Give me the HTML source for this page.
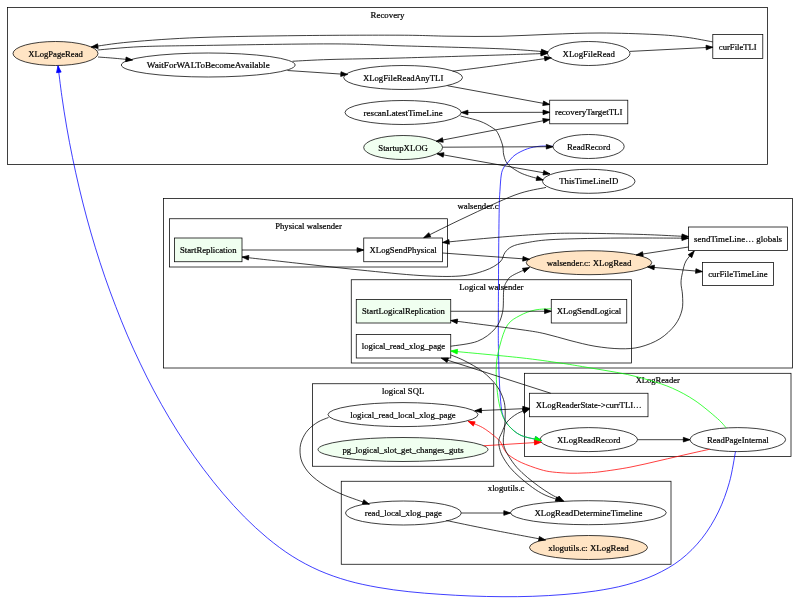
<!DOCTYPE html>
<html><head><meta charset="utf-8"><title>graph</title>
<style>
html,body{margin:0;padding:0;background:#fff;}
svg{display:block;will-change:transform;}
text{font-family:"Liberation Serif",serif;font-size:9.0px;fill:#000;stroke:#000;stroke-width:0.22px;}
</style></head><body>
<svg width="800" height="600" viewBox="0 0 800 600">
<rect x="0" y="0" width="800" height="600" fill="#fff"/>
<rect x="7.5" y="7.5" width="760.00" height="157.00" fill="none" stroke="#000" stroke-width="0.75"/>
<text x="370.55" y="17.60" textLength="33.90" lengthAdjust="spacingAndGlyphs">Recovery</text>
<rect x="163.6" y="198.4" width="628.80" height="169.60" fill="none" stroke="#000" stroke-width="0.75"/>
<text x="457.43" y="208.50" textLength="41.15" lengthAdjust="spacingAndGlyphs">walsender.c</text>
<rect x="169.5" y="218.75" width="278.00" height="48.25" fill="none" stroke="#000" stroke-width="0.75"/>
<text x="275.18" y="228.85" textLength="66.65" lengthAdjust="spacingAndGlyphs">Physical walsender</text>
<rect x="351.25" y="279.75" width="280.25" height="83.25" fill="none" stroke="#000" stroke-width="0.75"/>
<text x="459.30" y="289.85" textLength="64.15" lengthAdjust="spacingAndGlyphs">Logical walsender</text>
<rect x="524.5" y="373.3" width="266.50" height="83.30" fill="none" stroke="#000" stroke-width="0.75"/>
<text x="635.67" y="383.40" textLength="44.15" lengthAdjust="spacingAndGlyphs">XLogReader</text>
<rect x="312.5" y="383.75" width="181.25" height="82.50" fill="none" stroke="#000" stroke-width="0.75"/>
<text x="382.05" y="393.85" textLength="42.15" lengthAdjust="spacingAndGlyphs">logical SQL</text>
<rect x="341.25" y="481.25" width="329.75" height="83.00" fill="none" stroke="#000" stroke-width="0.75"/>
<text x="487.77" y="491.35" textLength="36.70" lengthAdjust="spacingAndGlyphs">xlogutils.c</text>
<ellipse cx="55.5" cy="53.5" rx="42.5" ry="12" fill="#ffe4c4" stroke="#000" stroke-width="0.75"/>
<text x="28.18" y="56.60" textLength="54.65" lengthAdjust="spacingAndGlyphs">XLogPageRead</text>
<ellipse cx="208.25" cy="65" rx="86.9" ry="12" fill="none" stroke="#000" stroke-width="0.75"/>
<text x="146.80" y="68.10" textLength="122.90" lengthAdjust="spacingAndGlyphs">WaitForWALToBecomeAvailable</text>
<ellipse cx="403.1" cy="77.5" rx="59.4" ry="12" fill="none" stroke="#000" stroke-width="0.75"/>
<text x="362.90" y="80.60" textLength="80.40" lengthAdjust="spacingAndGlyphs">XLogFileReadAnyTLI</text>
<ellipse cx="588.75" cy="53.5" rx="41.25" ry="12" fill="none" stroke="#000" stroke-width="0.75"/>
<text x="562.55" y="56.60" textLength="52.40" lengthAdjust="spacingAndGlyphs">XLogFileRead</text>
<rect x="712.8" y="34.6" width="50.00" height="23.80" fill="none" stroke="#000" stroke-width="0.75"/>
<text x="718.85" y="49.60" textLength="37.90" lengthAdjust="spacingAndGlyphs">curFileTLI</text>
<ellipse cx="403.1" cy="112.5" rx="58.1" ry="12" fill="none" stroke="#000" stroke-width="0.75"/>
<text x="363.53" y="115.60" textLength="79.15" lengthAdjust="spacingAndGlyphs">rescanLatestTimeLine</text>
<rect x="549.7" y="100.2" width="78.10" height="23.60" fill="none" stroke="#000" stroke-width="0.75"/>
<text x="554.95" y="115.10" textLength="67.60" lengthAdjust="spacingAndGlyphs">recoveryTargetTLI</text>
<ellipse cx="403.1" cy="147.5" rx="39.4" ry="12" fill="#f0fff0" stroke="#000" stroke-width="0.75"/>
<text x="378.28" y="150.60" textLength="49.65" lengthAdjust="spacingAndGlyphs">StartupXLOG</text>
<ellipse cx="588.6" cy="146.5" rx="35.6" ry="12" fill="none" stroke="#000" stroke-width="0.75"/>
<text x="566.90" y="149.60" textLength="43.40" lengthAdjust="spacingAndGlyphs">ReadRecord</text>
<ellipse cx="588.75" cy="181.3" rx="46.25" ry="12" fill="none" stroke="#000" stroke-width="0.75"/>
<text x="559.17" y="184.40" textLength="59.15" lengthAdjust="spacingAndGlyphs">ThisTimeLineID</text>
<rect x="174.5" y="238" width="67.50" height="23.75" fill="#f0fff0" stroke="#000" stroke-width="0.75"/>
<text x="179.93" y="252.97" textLength="56.65" lengthAdjust="spacingAndGlyphs">StartReplication</text>
<rect x="363.75" y="238" width="78.75" height="23.75" fill="none" stroke="#000" stroke-width="0.75"/>
<text x="369.55" y="252.97" textLength="67.15" lengthAdjust="spacingAndGlyphs">XLogSendPhysical</text>
<rect x="356.25" y="299.5" width="94.50" height="23.50" fill="#f0fff0" stroke="#000" stroke-width="0.75"/>
<text x="362.05" y="314.35" textLength="82.90" lengthAdjust="spacingAndGlyphs">StartLogicalReplication</text>
<rect x="551.25" y="299.5" width="75.50" height="23.50" fill="none" stroke="#000" stroke-width="0.75"/>
<text x="556.67" y="314.35" textLength="64.65" lengthAdjust="spacingAndGlyphs">XLogSendLogical</text>
<rect x="356.25" y="334.5" width="94.50" height="23.50" fill="none" stroke="#000" stroke-width="0.75"/>
<text x="361.80" y="349.35" textLength="83.40" lengthAdjust="spacingAndGlyphs">logical_read_xlog_page</text>
<ellipse cx="589" cy="262.7" rx="62.75" ry="12" fill="#ffe4c4" stroke="#000" stroke-width="0.75"/>
<text x="546.67" y="265.80" textLength="84.65" lengthAdjust="spacingAndGlyphs">walsender.c: XLogRead</text>
<rect x="688.6" y="227" width="99.00" height="23.60" fill="none" stroke="#000" stroke-width="0.75"/>
<text x="694.10" y="241.90" textLength="88.00" lengthAdjust="spacingAndGlyphs">sendTimeLine… globals</text>
<rect x="702.4" y="262.4" width="71.00" height="23.20" fill="none" stroke="#000" stroke-width="0.75"/>
<text x="708.20" y="277.10" textLength="59.40" lengthAdjust="spacingAndGlyphs">curFileTimeLine</text>
<rect x="529.5" y="393.25" width="118.50" height="23.50" fill="none" stroke="#000" stroke-width="0.75"/>
<text x="535.67" y="408.10" textLength="106.15" lengthAdjust="spacingAndGlyphs">XLogReaderState-&gt;currTLI…</text>
<ellipse cx="588.75" cy="439.6" rx="48.75" ry="12" fill="none" stroke="#000" stroke-width="0.75"/>
<text x="557.05" y="442.70" textLength="63.40" lengthAdjust="spacingAndGlyphs">XLogReadRecord</text>
<ellipse cx="737.8" cy="439.6" rx="47.8" ry="12" fill="none" stroke="#000" stroke-width="0.75"/>
<text x="706.90" y="442.70" textLength="61.80" lengthAdjust="spacingAndGlyphs">ReadPageInternal</text>
<ellipse cx="403" cy="414.6" rx="75" ry="12" fill="none" stroke="#000" stroke-width="0.75"/>
<text x="350.30" y="417.70" textLength="105.40" lengthAdjust="spacingAndGlyphs">logical_read_local_xlog_page</text>
<ellipse cx="403" cy="449.5" rx="85" ry="12" fill="#f0fff0" stroke="#000" stroke-width="0.75"/>
<text x="342.43" y="452.60" textLength="121.15" lengthAdjust="spacingAndGlyphs">pg_logical_slot_get_changes_guts</text>
<ellipse cx="403.4" cy="513" rx="57.9" ry="12" fill="none" stroke="#000" stroke-width="0.75"/>
<text x="364.82" y="516.10" textLength="77.15" lengthAdjust="spacingAndGlyphs">read_local_xlog_page</text>
<ellipse cx="588.4" cy="512.7" rx="77.9" ry="12" fill="none" stroke="#000" stroke-width="0.75"/>
<text x="534.45" y="515.80" textLength="107.90" lengthAdjust="spacingAndGlyphs">XLogReadDetermineTimeline</text>
<ellipse cx="588.5" cy="547.5" rx="59" ry="12" fill="#ffe4c4" stroke="#000" stroke-width="0.75"/>
<text x="548.30" y="550.60" textLength="80.40" lengthAdjust="spacingAndGlyphs">xlogutils.c: XLogRead</text>
<path d="M553.00,146.30C550.83,146.28 544.25,145.79 540.00,146.20C535.75,146.61 531.67,147.28 527.50,148.75C523.33,150.22 518.33,152.62 515.00,155.00C511.67,157.38 509.42,160.83 507.50,163.00C505.58,165.17 504.54,166.00 503.50,168.00C502.46,170.00 501.83,171.33 501.25,175.00C500.67,178.67 500.32,185.00 500.00,190.00C499.68,195.00 499.52,195.00 499.30,205.00C499.08,215.00 498.87,229.17 498.70,250.00C498.53,270.83 498.32,312.50 498.30,330.00C498.28,347.50 498.47,347.50 498.60,355.00C498.73,362.50 498.87,368.75 499.10,375.00C499.33,381.25 499.58,386.67 500.00,392.50C500.42,398.33 500.90,405.67 501.60,410.00C502.30,414.33 503.01,415.88 504.20,418.50C505.39,421.12 505.95,422.93 508.75,425.75C511.55,428.57 515.54,432.96 521.00,435.40C526.46,437.84 538.08,439.57 541.50,440.40" fill="none" stroke="#0000ff" stroke-width="0.75"/>
<polygon points="534.47,441.08 541.50,440.40 535.57,436.56" fill="#0000ff" stroke="#0000ff" stroke-width="0.75"/>
<path d="M98.00,57.00C100.83,57.22 109.25,57.80 115.00,58.30C120.75,58.80 129.58,59.72 132.50,60.00" fill="none" stroke="#000" stroke-width="0.75"/>
<polygon points="125.64,61.67 132.50,60.00 126.09,57.04" fill="#000" stroke="#000" stroke-width="0.75"/>
<path d="M712.80,41.90C708.33,41.12 695.63,38.43 686.00,37.20C676.37,35.97 669.33,35.20 655.00,34.50C640.67,33.80 617.50,33.03 600.00,33.00C582.50,32.97 566.67,33.75 550.00,34.30C533.33,34.85 516.67,35.98 500.00,36.30C483.33,36.62 466.67,36.38 450.00,36.20C433.33,36.02 425.00,35.30 400.00,35.20C375.00,35.10 333.33,35.22 300.00,35.60C266.67,35.98 228.33,36.43 200.00,37.50C171.67,38.57 148.12,40.42 130.00,42.00C111.88,43.58 97.71,46.17 91.25,47.00" fill="none" stroke="#000" stroke-width="0.75"/>
<polygon points="97.57,43.84 91.25,47.00 98.16,48.46" fill="#000" stroke="#000" stroke-width="0.75"/>
<path d="M97.50,50.00C104.58,49.45 122.92,47.45 140.00,46.70C157.08,45.95 168.33,45.97 200.00,45.50C231.67,45.03 296.67,43.85 330.00,43.90C363.33,43.95 371.67,44.99 400.00,45.80C428.33,46.61 475.33,47.72 500.00,48.75C524.67,49.78 540.00,51.46 548.00,52.00" fill="none" stroke="#000" stroke-width="0.75"/>
<polygon points="541.19,53.87 548.00,52.00 541.50,49.22" fill="#000" stroke="#000" stroke-width="0.75"/>
<path d="M292.50,61.25C298.75,60.96 312.08,60.04 330.00,59.50C347.92,58.96 371.67,58.75 400.00,58.00C428.33,57.25 475.42,55.77 500.00,55.00C524.58,54.23 539.58,53.67 547.50,53.40" fill="none" stroke="#000" stroke-width="0.75"/>
<polygon points="540.91,55.95 547.50,53.40 540.76,51.30" fill="#000" stroke="#000" stroke-width="0.75"/>
<path d="M287.50,70.50L347.50,74.50" fill="none" stroke="#000" stroke-width="0.75"/>
<polygon points="340.69,76.38 347.50,74.50 341.00,71.73" fill="#000" stroke="#000" stroke-width="0.75"/>
<path d="M452.50,71.25C460.42,70.21 483.54,67.26 500.00,65.00C516.46,62.74 542.71,58.92 551.25,57.70" fill="none" stroke="#000" stroke-width="0.75"/>
<polygon points="544.98,60.95 551.25,57.70 544.32,56.33" fill="#000" stroke="#000" stroke-width="0.75"/>
<path d="M447.50,85.75L549.70,104.50" fill="none" stroke="#000" stroke-width="0.75"/>
<polygon points="542.72,105.59 549.70,104.50 543.56,101.00" fill="#000" stroke="#000" stroke-width="0.75"/>
<path d="M461.25,112.50L549.70,112.30" fill="none" stroke="#000" stroke-width="0.75"/>
<polygon points="543.04,114.65 549.70,112.30 543.02,109.99" fill="#000" stroke="#000" stroke-width="0.75"/>
<polygon points="467.91,110.15 461.25,112.50 467.93,114.81" fill="#000" stroke="#000" stroke-width="0.75"/>
<path d="M436.25,141.25L549.70,119.50" fill="none" stroke="#000" stroke-width="0.75"/>
<polygon points="543.59,123.04 549.70,119.50 542.71,118.47" fill="#000" stroke="#000" stroke-width="0.75"/>
<polygon points="442.36,137.71 436.25,141.25 443.24,142.28" fill="#000" stroke="#000" stroke-width="0.75"/>
<path d="M442.50,147.20L553.00,146.70" fill="none" stroke="#000" stroke-width="0.75"/>
<polygon points="546.34,149.06 553.00,146.70 546.32,144.40" fill="#000" stroke="#000" stroke-width="0.75"/>
<path d="M437.00,153.75L550.00,173.90" fill="none" stroke="#000" stroke-width="0.75"/>
<polygon points="543.02,175.02 550.00,173.90 543.84,170.44" fill="#000" stroke="#000" stroke-width="0.75"/>
<polygon points="443.98,152.63 437.00,153.75 443.16,157.21" fill="#000" stroke="#000" stroke-width="0.75"/>
<path d="M460.50,116.00C463.75,116.88 474.75,119.33 480.00,121.25C485.25,123.17 489.08,125.62 492.00,127.50C494.92,129.38 495.75,129.58 497.50,132.50C499.25,135.42 501.46,141.25 502.50,145.00C503.54,148.75 502.92,151.88 503.75,155.00C504.58,158.12 505.21,161.04 507.50,163.75C509.79,166.46 514.17,169.28 517.50,171.25C520.83,173.22 523.23,174.14 527.50,175.60C531.77,177.06 540.50,179.27 543.10,180.00" fill="none" stroke="#000" stroke-width="0.75"/>
<polygon points="536.05,180.43 543.10,180.00 537.31,175.95" fill="#000" stroke="#000" stroke-width="0.75"/>
<path d="M546.00,187.40C540.83,188.67 528.50,189.98 515.00,195.00C501.50,200.02 480.21,210.38 465.00,217.50C449.79,224.62 430.62,234.33 423.75,237.70" fill="none" stroke="#000" stroke-width="0.75"/>
<polygon points="428.72,232.67 423.75,237.70 430.77,236.86" fill="#000" stroke="#000" stroke-width="0.75"/>
<path d="M551.25,308.75C548.54,308.96 540.21,308.88 535.00,310.00C529.79,311.12 524.58,313.00 520.00,315.50C515.42,318.00 510.83,320.08 507.50,325.00C504.17,329.92 501.87,338.17 500.00,345.00C498.13,351.83 496.73,358.08 496.30,366.00C495.87,373.92 496.49,384.58 497.40,392.50C498.31,400.42 499.86,407.96 501.75,413.50C503.64,419.04 505.54,422.10 508.75,425.75C511.96,429.40 515.54,432.96 521.00,435.40C526.46,437.84 538.08,439.57 541.50,440.40" fill="none" stroke="#00ff00" stroke-width="0.75"/>
<polygon points="534.47,441.08 541.50,440.40 535.57,436.56" fill="#00ff00" stroke="#00ff00" stroke-width="0.75"/>
<path d="M483.75,445.75L541.10,442.20" fill="none" stroke="#ff0000" stroke-width="0.75"/>
<polygon points="534.59,444.94 541.10,442.20 534.30,440.29" fill="#ff0000" stroke="#ff0000" stroke-width="0.75"/>
<path d="M709.50,449.30C706.25,450.02 698.25,451.73 690.00,453.60C681.75,455.47 670.00,458.23 660.00,460.50C650.00,462.77 640.00,465.32 630.00,467.20C620.00,469.08 607.50,470.85 600.00,471.80C592.50,472.75 590.00,472.67 585.00,472.90C580.00,473.13 575.42,473.35 570.00,473.20C564.58,473.05 557.50,472.63 552.50,472.00C547.50,471.37 545.21,470.98 540.00,469.40C534.79,467.82 526.46,464.90 521.25,462.50C516.04,460.10 511.67,457.29 508.75,455.00C505.83,452.71 505.12,450.92 503.75,448.75C502.38,446.58 502.04,444.09 500.50,442.00C498.96,439.91 497.50,438.62 494.50,436.20C491.50,433.78 486.90,429.98 482.50,427.50C478.10,425.02 470.50,422.33 468.10,421.30" fill="none" stroke="#ff0000" stroke-width="0.75"/>
<polygon points="475.15,421.80 468.10,421.30 473.30,426.08" fill="#ff0000" stroke="#ff0000" stroke-width="0.75"/>
<path d="M726.30,428.00C724.83,426.43 722.72,423.17 717.50,418.60C712.28,414.03 702.50,405.66 695.00,400.60C687.50,395.54 680.00,391.62 672.50,388.25C665.00,384.88 657.50,382.69 650.00,380.40C642.50,378.11 635.00,376.17 627.50,374.50C620.00,372.83 612.50,371.72 605.00,370.40C597.50,369.08 590.00,367.83 582.50,366.60C575.00,365.37 570.42,364.48 560.00,363.00C549.58,361.52 538.21,359.70 520.00,357.70C501.79,355.70 462.29,352.12 450.75,351.00" fill="none" stroke="#00ff00" stroke-width="0.75"/>
<polygon points="457.61,349.32 450.75,351.00 457.16,353.96" fill="#00ff00" stroke="#00ff00" stroke-width="0.75"/>
<path d="M735.50,451.50C734.48,456.63 732.27,472.22 729.40,482.30C726.53,492.38 722.87,502.67 718.30,512.00C713.73,521.33 708.27,530.37 702.00,538.30C695.73,546.23 688.53,553.52 680.70,559.60C672.87,565.68 664.10,570.58 655.00,574.80C645.90,579.02 636.03,582.20 626.10,584.90C616.17,587.60 605.75,589.40 595.40,591.00C585.05,592.60 574.43,593.62 564.00,594.50C553.57,595.38 543.13,595.93 532.80,596.30C522.47,596.67 512.28,596.75 502.00,596.70C491.72,596.65 481.42,596.40 471.10,596.00C460.78,595.60 450.47,595.02 440.10,594.30C429.73,593.58 419.25,592.85 408.90,591.70C398.55,590.55 388.18,589.23 378.00,587.40C367.82,585.57 357.62,583.52 347.80,580.70C337.98,577.88 328.37,574.58 319.10,570.50C309.83,566.42 300.82,561.62 292.20,556.20C283.58,550.78 275.37,544.55 267.40,538.00C259.43,531.45 251.77,524.28 244.40,516.90C237.03,509.52 229.98,501.63 223.20,493.70C216.42,485.77 209.95,477.58 203.70,469.30C197.45,461.02 191.45,452.58 185.70,444.00C179.95,435.42 174.48,426.65 169.20,417.80C163.92,408.95 158.85,400.00 154.00,390.90C149.15,381.80 144.55,372.50 140.10,363.20C135.65,353.90 131.37,344.57 127.30,335.10C123.23,325.63 119.42,316.03 115.70,306.40C111.98,296.77 108.38,287.07 105.00,277.30C101.62,267.53 98.43,257.68 95.40,247.80C92.37,237.92 89.50,227.98 86.80,218.00C84.10,208.02 81.58,197.97 79.20,187.90C76.82,177.83 74.58,167.73 72.50,157.60C70.42,147.47 68.47,137.28 66.70,127.10C64.93,116.92 63.35,106.72 61.90,96.50C60.45,86.28 58.65,70.92 58.00,65.80" fill="none" stroke="#0000ff" stroke-width="0.75"/>
<polygon points="61.15,72.12 58.00,65.80 56.53,72.71" fill="#0000ff" stroke="#0000ff" stroke-width="0.75"/>
<path d="M242.00,250.00L363.75,250.00" fill="none" stroke="#000" stroke-width="0.75"/>
<polygon points="357.08,252.33 363.75,250.00 357.08,247.67" fill="#000" stroke="#000" stroke-width="0.75"/>
<path d="M442.50,242.50C450.42,241.75 473.75,239.38 490.00,238.00C506.25,236.62 525.83,235.00 540.00,234.20C554.17,233.40 558.33,233.17 575.00,233.20C591.67,233.23 621.07,233.83 640.00,234.40C658.93,234.97 680.50,236.23 688.60,236.60" fill="none" stroke="#000" stroke-width="0.75"/>
<polygon points="681.83,238.63 688.60,236.60 682.04,233.97" fill="#000" stroke="#000" stroke-width="0.75"/>
<polygon points="448.92,239.55 442.50,242.50 449.36,244.19" fill="#000" stroke="#000" stroke-width="0.75"/>
<path d="M242.00,257.00C251.67,258.08 280.33,261.33 300.00,263.50C319.67,265.67 340.00,268.00 360.00,270.00C380.00,272.00 403.33,274.50 420.00,275.50C436.67,276.50 449.17,276.83 460.00,276.00C470.83,275.17 478.33,272.83 485.00,270.50C491.67,268.17 496.67,265.00 500.00,262.00C503.33,259.00 503.00,255.08 505.00,252.50C507.00,249.92 508.67,248.08 512.00,246.50C515.33,244.92 518.67,244.13 525.00,243.00C531.33,241.87 537.50,240.49 550.00,239.70C562.50,238.91 585.00,238.53 600.00,238.25C615.00,237.97 625.23,238.01 640.00,238.00C654.77,237.99 680.50,238.17 688.60,238.20" fill="none" stroke="#000" stroke-width="0.75"/>
<polygon points="681.92,240.50 688.60,238.20 681.94,235.84" fill="#000" stroke="#000" stroke-width="0.75"/>
<polygon points="248.89,255.43 242.00,257.00 248.37,260.06" fill="#000" stroke="#000" stroke-width="0.75"/>
<path d="M442.50,253.00L529.50,259.30" fill="none" stroke="#000" stroke-width="0.75"/>
<polygon points="522.68,261.14 529.50,259.30 523.02,256.49" fill="#000" stroke="#000" stroke-width="0.75"/>
<path d="M688.60,247.00L636.25,255.00" fill="none" stroke="#000" stroke-width="0.75"/>
<polygon points="642.49,251.69 636.25,255.00 643.20,256.30" fill="#000" stroke="#000" stroke-width="0.75"/>
<path d="M647.60,266.90L702.40,271.60" fill="none" stroke="#000" stroke-width="0.75"/>
<polygon points="695.56,273.35 702.40,271.60 695.95,268.71" fill="#000" stroke="#000" stroke-width="0.75"/>
<polygon points="654.44,265.15 647.60,266.90 654.05,269.79" fill="#000" stroke="#000" stroke-width="0.75"/>
<path d="M450.75,311.25L551.25,311.25" fill="none" stroke="#000" stroke-width="0.75"/>
<polygon points="544.58,313.58 551.25,311.25 544.58,308.92" fill="#000" stroke="#000" stroke-width="0.75"/>
<path d="M450.75,320.50C462.29,322.00 504.29,327.29 520.00,329.50C535.71,331.71 536.67,331.92 545.00,333.75C553.33,335.58 561.67,338.42 570.00,340.50C578.33,342.58 586.67,344.88 595.00,346.25C603.33,347.62 612.50,348.62 620.00,348.75C627.50,348.88 633.33,348.67 640.00,347.00C646.67,345.33 654.17,342.42 660.00,338.75C665.83,335.08 671.33,329.79 675.00,325.00C678.67,320.21 680.75,315.00 682.00,310.00C683.25,305.00 682.67,299.50 682.50,295.00C682.33,290.50 681.00,286.75 681.00,283.00C681.00,279.25 681.67,276.17 682.50,272.50C683.33,268.83 684.05,264.58 686.00,261.00C687.95,257.42 692.83,252.67 694.20,251.00" fill="none" stroke="#000" stroke-width="0.75"/>
<polygon points="691.77,257.64 694.20,251.00 688.17,254.68" fill="#000" stroke="#000" stroke-width="0.75"/>
<polygon points="457.66,319.05 450.75,320.50 457.06,323.67" fill="#000" stroke="#000" stroke-width="0.75"/>
<path d="M450.75,346.25C455.21,345.42 470.12,344.17 477.50,341.25C484.88,338.33 490.83,333.54 495.00,328.75C499.17,323.96 501.04,318.96 502.50,312.50C503.96,306.04 503.00,295.25 503.75,290.00C504.50,284.75 505.54,283.42 507.00,281.00C508.46,278.58 508.75,277.73 512.50,275.50C516.25,273.27 526.67,268.92 529.50,267.60" fill="none" stroke="#000" stroke-width="0.75"/>
<polygon points="524.43,272.52 529.50,267.60 522.47,268.30" fill="#000" stroke="#000" stroke-width="0.75"/>
<path d="M550.75,393.25L441.40,358.20" fill="none" stroke="#000" stroke-width="0.75"/>
<polygon points="448.46,358.02 441.40,358.20 447.04,362.45" fill="#000" stroke="#000" stroke-width="0.75"/>
<path d="M450.75,354.90C453.12,355.92 459.71,358.23 465.00,361.00C470.29,363.77 477.25,367.42 482.50,371.50C487.75,375.58 493.00,380.83 496.50,385.50C500.00,390.17 502.04,395.08 503.50,399.50C504.96,403.92 505.07,407.33 505.25,412.00C505.43,416.67 504.93,422.83 504.60,427.50C504.28,432.17 503.33,436.67 503.30,440.00C503.27,443.33 503.49,444.79 504.40,447.50C505.31,450.21 506.67,452.92 508.75,456.25C510.83,459.58 513.77,463.96 516.90,467.50C520.02,471.04 523.86,474.38 527.50,477.50C531.14,480.62 535.00,483.54 538.75,486.25C542.50,488.96 545.83,491.25 550.00,493.75C554.17,496.25 561.46,500.00 563.75,501.25" fill="none" stroke="#000" stroke-width="0.75"/>
<polygon points="556.78,500.10 563.75,501.25 559.01,496.01" fill="#000" stroke="#000" stroke-width="0.75"/>
<path d="M529.50,409.00C527.50,409.75 521.25,411.33 517.50,413.50C513.75,415.67 509.62,418.79 507.00,422.00C504.38,425.21 503.10,429.75 501.75,432.75C500.40,435.75 499.29,437.54 498.90,440.00C498.51,442.46 498.80,444.79 499.40,447.50C500.00,450.21 500.73,452.92 502.50,456.25C504.27,459.58 507.08,463.96 510.00,467.50C512.92,471.04 516.25,474.17 520.00,477.50C523.75,480.83 528.33,484.58 532.50,487.50C536.67,490.42 540.03,492.72 545.00,495.00C549.97,497.28 559.42,500.17 562.30,501.20" fill="none" stroke="#000" stroke-width="0.75"/>
<polygon points="555.23,501.14 562.30,501.20 556.81,496.76" fill="#000" stroke="#000" stroke-width="0.75"/>
<polygon points="524.07,413.52 529.50,409.00 522.44,409.16" fill="#000" stroke="#000" stroke-width="0.75"/>
<path d="M529.50,408.40L474.80,410.80" fill="none" stroke="#000" stroke-width="0.75"/>
<polygon points="481.36,408.18 474.80,410.80 481.57,412.84" fill="#000" stroke="#000" stroke-width="0.75"/>
<polygon points="522.94,411.02 529.50,408.40 522.73,406.36" fill="#000" stroke="#000" stroke-width="0.75"/>
<path d="M328.50,417.50C326.75,418.25 321.42,419.92 318.00,422.00C314.58,424.08 310.67,427.00 308.00,430.00C305.33,433.00 303.33,436.67 302.00,440.00C300.67,443.33 300.00,446.33 300.00,450.00C300.00,453.67 300.33,458.00 302.00,462.00C303.67,466.00 306.33,470.17 310.00,474.00C313.67,477.83 318.67,481.62 324.00,485.00C329.33,488.38 334.45,491.10 342.00,494.30C349.55,497.50 364.75,502.55 369.30,504.20" fill="none" stroke="#000" stroke-width="0.75"/>
<polygon points="362.24,504.12 369.30,504.20 363.82,499.74" fill="#000" stroke="#000" stroke-width="0.75"/>
<path d="M461.30,513.00L510.50,513.00" fill="none" stroke="#000" stroke-width="0.75"/>
<polygon points="503.83,515.33 510.50,513.00 503.83,510.67" fill="#000" stroke="#000" stroke-width="0.75"/>
<path d="M446.25,520.50C453.54,522.00 473.46,526.25 490.00,529.50C506.54,532.75 536.25,538.25 545.50,540.00" fill="none" stroke="#000" stroke-width="0.75"/>
<polygon points="538.51,541.05 545.50,540.00 539.38,536.47" fill="#000" stroke="#000" stroke-width="0.75"/>
<path d="M637.50,439.70L690.00,439.70" fill="none" stroke="#000" stroke-width="0.75"/>
<polygon points="683.33,442.03 690.00,439.70 683.33,437.37" fill="#000" stroke="#000" stroke-width="0.75"/>
<path d="M630.00,51.40L712.80,47.20" fill="none" stroke="#000" stroke-width="0.75"/>
<polygon points="706.26,49.86 712.80,47.20 706.02,45.21" fill="#000" stroke="#000" stroke-width="0.75"/>
</svg>
</body></html>
